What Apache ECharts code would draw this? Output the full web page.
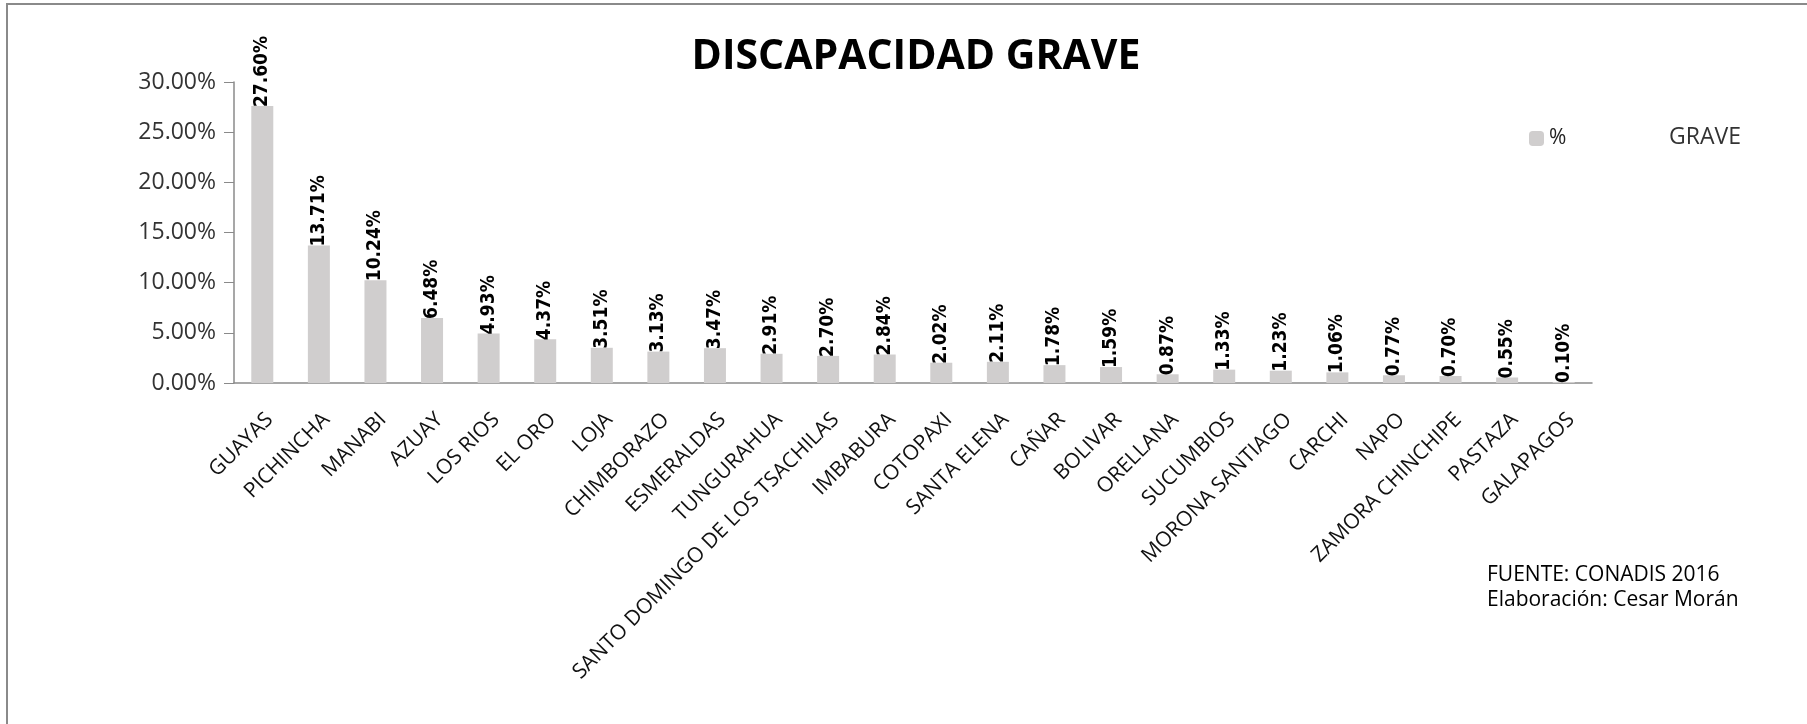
<!DOCTYPE html>
<html>
<head>
<meta charset="utf-8">
<script src="https://cdn.jsdelivr.net/npm/echarts@6/dist/echarts.min.js"></script>
<style>
    html, body { margin: 0; padding: 0; background: #fff; }
    #main { width: 1807px; height: 724px; }
</style>
</head>
<body>
<div id="main"></div>
<script>
    // provincias
    const provincias = ['GUAYAS', 'PICHINCHA', 'MANABI', 'AZUAY', 'LOS RIOS', 'EL ORO', 'LOJA',
        'CHIMBORAZO', 'ESMERALDAS', 'TUNGURAHUA', 'SANTO DOMINGO DE LOS TSACHILAS', 'IMBABURA',
        'COTOPAXI', 'SANTA ELENA', 'CAÑAR', 'BOLIVAR', 'ORELLANA', 'SUCUMBIOS', 'MORONA SANTIAGO',
        'CARCHI', 'NAPO', 'ZAMORA CHINCHIPE', 'PASTAZA', 'GALAPAGOS'];

    // % discapacidad grave
    const porcentajes = [27.60, 13.71, 10.24, 6.48, 4.93, 4.37, 3.51, 3.13, 3.47, 2.91, 2.70, 2.84,
        2.02, 2.11, 1.78, 1.59, 0.87, 1.33, 1.23, 1.06, 0.77, 0.70, 0.55, 0.10];

    const yMin = 0, yMax = 30, yStep = 5;

    const chart = echarts.init(document.getElementById('main'));

    const option = {
        animation: false,
        title: {
            text: 'DISCAPACIDAD GRAVE',
            left: 911,
            top: 32,
            textAlign: 'center',
            textStyle: { fontFamily: 'Open Sans', fontWeight: 'bold', fontSize: 41, color: '#000' }
        },
        legend: {
            data: ['%'],
            left: 1524,
            top: 123,
            itemWidth: 15,
            itemHeight: 15,
            itemGap: 6,
            textStyle: { fontFamily: 'Open Sans', fontSize: 21, color: '#222' }
        },
        graphic: [
            { type: 'rect', shape: { x: 7, y: 4, width: 1830, height: 760 }, style: { fill: 'none', stroke: '#8a8a8a', lineWidth: 2 } },
            { type: 'text', left: 1669, top: 126, style: { text: 'GRAVE', fontFamily: 'Open Sans', fontSize: 23, fill: '#333' } },
            { type: 'text', left: 1487, top: 563, style: { text: 'FUENTE: CONADIS 2016\nElaboración: Cesar Morán', fontFamily: 'Open Sans', fontSize: 21, lineHeight: 25, fill: '#000' } }
        ],
        grid: { left: 234, right: 215, top: 82, bottom: 341 },
        xAxis: {
            type: 'category',
            data: provincias,
            axisLine: { lineStyle: { color: '#8a8a8a', width: 1.5 } },
            axisTick: { alignWithLabel: false, length: 10, lineStyle: { color: '#8a8a8a' } },
            axisLabel: {
                rotate: 45, interval: 0, margin: 26, verticalAlign: 'top',
                fontFamily: 'Open Sans', fontSize: 21, color: '#111'
            }
        },
        yAxis: {
            type: 'value',
            min: yMin,
            max: yMax,
            interval: yStep,
            axisLine: { show: true, lineStyle: { color: '#8a8a8a', width: 1.5 } },
            axisTick: { show: true, length: 10, lineStyle: { color: '#8a8a8a' } },
            splitLine: { show: false },
            axisLabel: {
                margin: 18,
                fontFamily: 'Open Sans', fontSize: 23, color: '#333',
                formatter: v => v.toFixed(2) + '%'
            }
        },
        series: [{
            name: '%',
            type: 'bar',
            data: porcentajes,
            barWidth: 22,
            itemStyle: { color: '#d0cece' },
            label: {
                show: true,
                position: 'top',
                rotate: 90,
                align: 'left',
                verticalAlign: 'middle',
                distance: -6,
                offset: [5, 0],
                fontFamily: 'DejaVu Sans Condensed',
                fontWeight: 'bold',
                fontSize: 19,
                color: '#000',
                formatter: p => p.value.toFixed(2) + '%'
            }
        }]
    };

    chart.setOption(option);
</script>
</body>
</html>
